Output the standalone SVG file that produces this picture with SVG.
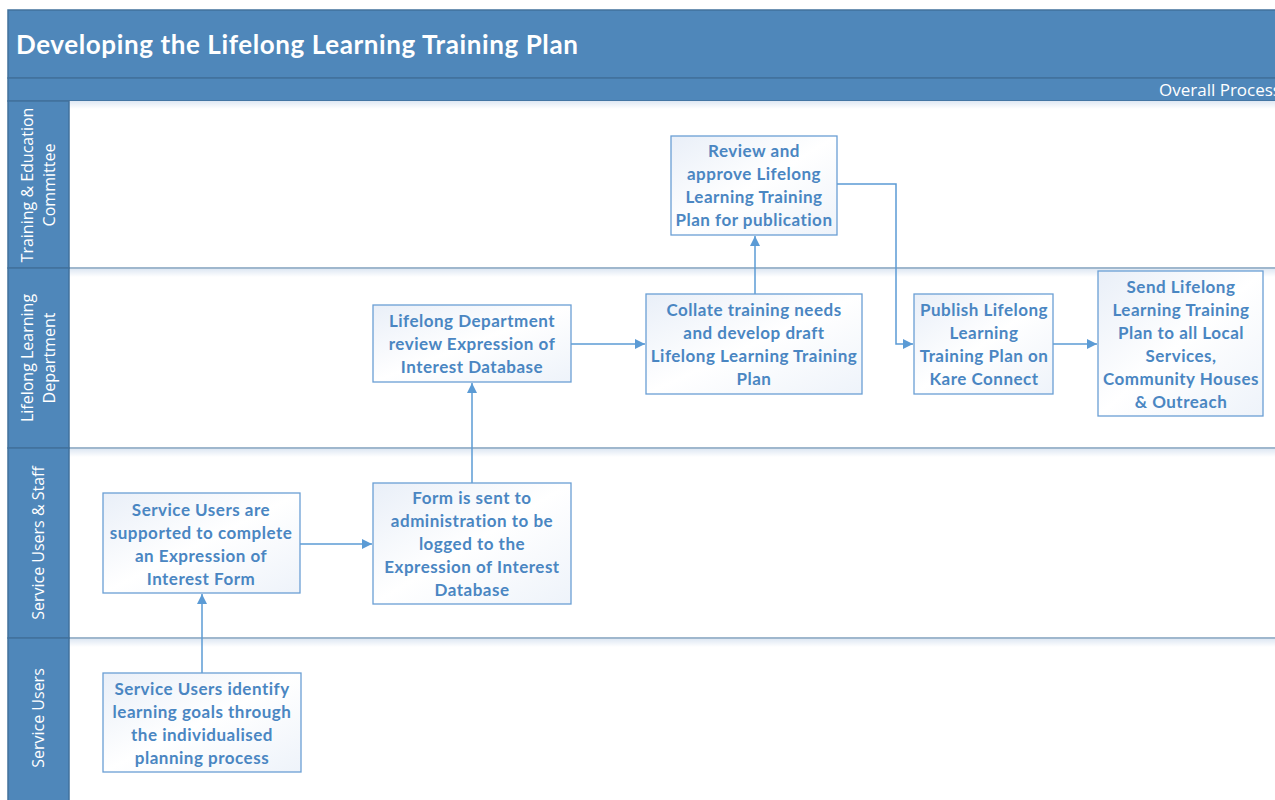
<svg xmlns="http://www.w3.org/2000/svg" width="1275" height="800" viewBox="0 0 1275 800">
<defs>
<linearGradient id="nodeFill" x1="0" y1="0" x2="1" y2="1">
<stop offset="0" stop-color="#e9eff8"/>
<stop offset="0.5" stop-color="#ffffff"/>
<stop offset="1" stop-color="#eef3fa"/>
</linearGradient>
<linearGradient id="laneTop" x1="0" y1="0" x2="0" y2="1">
<stop offset="0" stop-color="#dfe8f3"/>
<stop offset="1" stop-color="#ffffff"/>
</linearGradient>
<marker id="arrow" viewBox="0 0 10 10" refX="10" refY="5" markerWidth="10" markerHeight="10" markerUnits="userSpaceOnUse" orient="auto">
<path d="M0,0 L10,5 L0,10 Z" fill="#5b9bd5"/>
</marker>
</defs>
<style>
.band{fill:#4f87ba;stroke:#41719c;stroke-width:1.5}
.lanesep{stroke:#41719c;stroke-width:1.2}
.lanelbl{font-family:"Open Sans","Liberation Sans",sans-serif;font-size:16px;fill:#ffffff;text-anchor:middle}
.node rect{fill:url(#nodeFill);stroke:#6a9fd4;stroke-width:1.3}
.node text{font-family:Lato,"Liberation Sans",sans-serif;font-weight:bold;font-size:17px;letter-spacing:0.5px;fill:#4a86c2;text-anchor:middle}
.conn{fill:none;stroke:#5b9bd5;stroke-width:1.5;marker-end:url(#arrow)}
</style>
<rect width="1275" height="800" fill="#ffffff"/>
<!-- header -->
<g id="header">
<rect class="band" x="8" y="10" width="1280" height="68"/>
<rect class="band" x="8" y="78" width="1280" height="23"/>
<text x="16" y="54" font-family="Lato,'Liberation Sans',sans-serif" font-weight="bold" font-size="26" letter-spacing="0.6" fill="#ffffff">Developing the Lifelong Learning Training Plan</text>
<text x="1159" y="96" font-family="'Open Sans','Liberation Sans',sans-serif" font-size="17" fill="#ffffff">Overall Process</text>
</g>
<!-- lanes -->
<g id="lanes">
<rect x="69" y="101" width="1210" height="8" fill="url(#laneTop)"/>
<rect x="69" y="269" width="1210" height="8" fill="url(#laneTop)"/>
<rect x="69" y="449" width="1210" height="8" fill="url(#laneTop)"/>
<rect x="69" y="639" width="1210" height="8" fill="url(#laneTop)"/>
<rect class="band" x="8" y="101" width="61" height="167"/>
<rect class="band" x="8" y="268" width="61" height="180"/>
<rect class="band" x="8" y="448" width="61" height="190"/>
<rect class="band" x="8" y="638" width="61" height="170"/>
<line class="lanesep" x1="69" y1="268" x2="1275" y2="268"/>
<line class="lanesep" x1="69" y1="448" x2="1275" y2="448"/>
<line class="lanesep" x1="69" y1="638" x2="1275" y2="638"/>
<text class="lanelbl" transform="translate(38,185) rotate(-90)"><tspan x="0" y="-5">Training &amp; Education</tspan><tspan x="0" y="17">Committee</tspan></text>
<text class="lanelbl" transform="translate(38,358) rotate(-90)"><tspan x="0" y="-5">Lifelong Learning</tspan><tspan x="0" y="17">Department</tspan></text>
<text class="lanelbl" transform="translate(38,543) rotate(-90)"><tspan x="0" y="6">Service Users &amp; Staff</tspan></text>
<text class="lanelbl" transform="translate(38,718) rotate(-90)"><tspan x="0" y="6">Service Users</tspan></text>
</g>
<!-- connectors -->
<g id="connectors">
<path class="conn" d="M202,673 L202,594"/>
<path class="conn" d="M300,544 L372,544"/>
<path class="conn" d="M472,483 L472,383"/>
<path class="conn" d="M571,344 L645,344"/>
<path class="conn" d="M755,294 L755,236"/>
<path class="conn" d="M837,184 L896,184 L896,344 L913,344"/>
<path class="conn" d="M1053,344 L1097,344"/>
</g>
<!-- nodes -->
<g id="n-review" class="node">
<rect x="671" y="136" width="166" height="99"/>
<text x="754" y="157">Review and</text>
<text x="754" y="180">approve Lifelong</text>
<text x="754" y="203">Learning Training</text>
<text x="754" y="226">Plan for publication</text>
</g>
<g id="n-deptreview" class="node">
<rect x="373" y="305" width="198" height="77"/>
<text x="472" y="327">Lifelong Department</text>
<text x="472" y="350">review Expression of</text>
<text x="472" y="373">Interest Database</text>
</g>
<g id="n-collate" class="node">
<rect x="646" y="294" width="216" height="100"/>
<text x="754" y="316">Collate training needs</text>
<text x="754" y="339">and develop draft</text>
<text x="754" y="362">Lifelong Learning Training</text>
<text x="754" y="385">Plan</text>
</g>
<g id="n-publish" class="node">
<rect x="914" y="294" width="139" height="100"/>
<text x="984" y="316">Publish Lifelong</text>
<text x="984" y="339">Learning</text>
<text x="984" y="362">Training Plan on</text>
<text x="984" y="385">Kare Connect</text>
</g>
<g id="n-send" class="node">
<rect x="1098" y="271" width="165" height="145"/>
<text x="1181" y="293">Send Lifelong</text>
<text x="1181" y="316">Learning Training</text>
<text x="1181" y="339">Plan to all Local</text>
<text x="1181" y="362">Services,</text>
<text x="1181" y="385">Community Houses</text>
<text x="1181" y="408">&amp; Outreach</text>
</g>
<g id="n-supported" class="node">
<rect x="103" y="493" width="197" height="100"/>
<text x="201" y="516">Service Users are</text>
<text x="201" y="539">supported to complete</text>
<text x="201" y="562">an Expression of</text>
<text x="201" y="585">Interest Form</text>
</g>
<g id="n-form" class="node">
<rect x="373" y="483" width="198" height="121"/>
<text x="472" y="504">Form is sent to</text>
<text x="472" y="527">administration to be</text>
<text x="472" y="550">logged to the</text>
<text x="472" y="573">Expression of Interest</text>
<text x="472" y="596">Database</text>
</g>
<g id="n-identify" class="node">
<rect x="103" y="673" width="198" height="99"/>
<text x="202" y="695">Service Users identify</text>
<text x="202" y="718">learning goals through</text>
<text x="202" y="741">the individualised</text>
<text x="202" y="764">planning process</text>
</g>
</svg>
